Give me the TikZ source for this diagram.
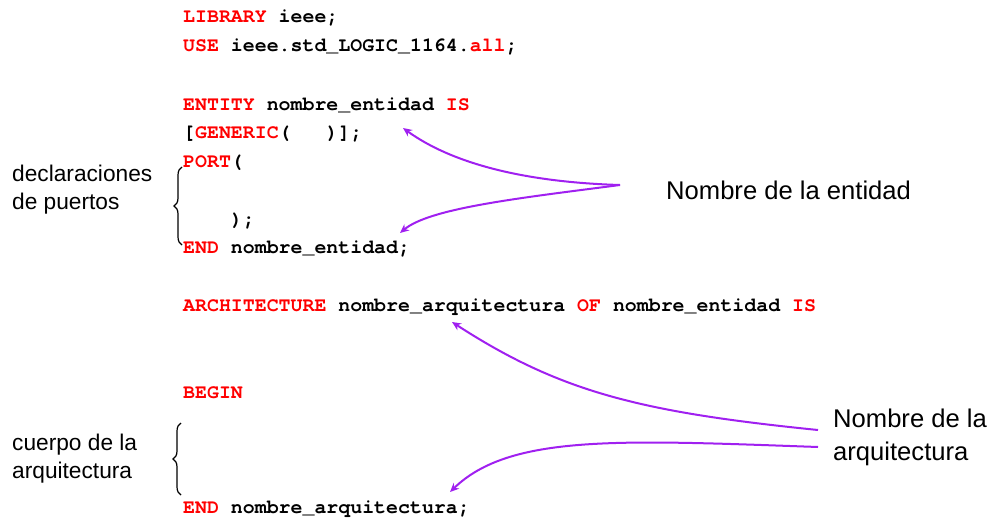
\documentclass[tikz,border=0pt]{standalone}
\usepackage{fontspec}
\setmainfont{Liberation Sans}
\newfontfamily\codefont{texgyrecursor}[Extension=.otf, UprightFont=*-regular, BoldFont=*-bold, WordSpace={1,0,0}]
\usetikzlibrary{decorations.pathreplacing,arrows.meta}
\definecolor{kw}{RGB}{255,0,0}
\definecolor{arr}{RGB}{160,32,240}
\newcommand{\kw}[1]{\textcolor{kw}{#1}}
\tikzset{
  codeline/.style={anchor=base west, inner sep=0pt, font=\codefont\bfseries\fontsize{19.9}{20}\selectfont},
  sidelabel/.style={anchor=base west, inner sep=0pt, font=\fontsize{22.7}{24}\selectfont},
  namelabel/.style={anchor=base west, inner sep=0pt, font=\fontsize{25.6}{28}\selectfont},
  pointer/.style={draw=arr, line width=2pt, -{Stealth[length=9pt,width=8pt]}},
  bracestyle/.style={decorate, decoration={brace, amplitude=8pt}, line width=1.2pt}
}
\begin{document}
\begin{tikzpicture}[x=1pt,y=-1pt]
\useasboundingbox (0,0) rectangle (992,519);
% code
\node[codeline] (l1) at (183,23) {\kw{LIBRARY} ieee;};
\node[codeline] (l2) at (183,52) {\kw{USE} ieee.std\_LOGIC\_1164.\kw{all};};
\node[codeline] (l3) at (183,110) {\kw{ENTITY} nombre\_entidad \kw{IS}};
\node[codeline] (l4) at (183,138) {[\kw{GENERIC}(\ \ \ )];};
\node[codeline] (l5) at (183,167) {\kw{PORT}(};
\node[codeline] (l6) at (183,225) {\ \ \ \ );};
\node[codeline] (l7) at (183,253) {\kw{END} nombre\_entidad;};
\node[codeline] (l8) at (183,311) {\kw{ARCHITECTURE} nombre\_arquitectura \kw{OF} nombre\_entidad \kw{IS}};
\node[codeline] (l9) at (183,398) {\kw{BEGIN}};
\node[codeline] (l10) at (183,513) {\kw{END} nombre\_arquitectura;};
% side labels
\node[sidelabel] (d1) at (12,181) {declaraciones};
\node[sidelabel] (d2) at (12,209) {de puertos};
\node[sidelabel] (c1) at (12,450) {cuerpo de la};
\node[sidelabel] (c2) at (12,478) {arquitectura};
\node[namelabel] (ne) at (666,199) {Nombre de la entidad};
\node[namelabel] (na1) at (833,427) {Nombre de la};
\node[namelabel] (na2) at (833,460) {arquitectura};
% braces
\coordinate (b1top) at (182,167);
\coordinate (b1bot) at (182,245);
\coordinate (b2top) at (181,423);
\coordinate (b2bot) at (181,495);
\draw[bracestyle] (b1bot) -- (b1top);
\draw[bracestyle] (b2bot) -- (b2top);
% arrows
\coordinate (e0) at (620,185);
\coordinate (eg) at (403,128);
\coordinate (ee) at (400,233);
\coordinate (a0) at (818,430);
\coordinate (a1) at (818,447);
\coordinate (aa) at (452,322);
\coordinate (ae) at (450,492);
\draw[pointer] (e0) .. controls (520,182) and (450,162) .. (eg);
\draw[pointer] (e0) .. controls (520,198) and (430,208) .. (ee);
\draw[pointer] (a0) .. controls (640,412) and (560,392) .. (aa);
\draw[pointer] (a1) .. controls (620,440) and (510,434) .. (ae);
\end{tikzpicture}
\end{document}
